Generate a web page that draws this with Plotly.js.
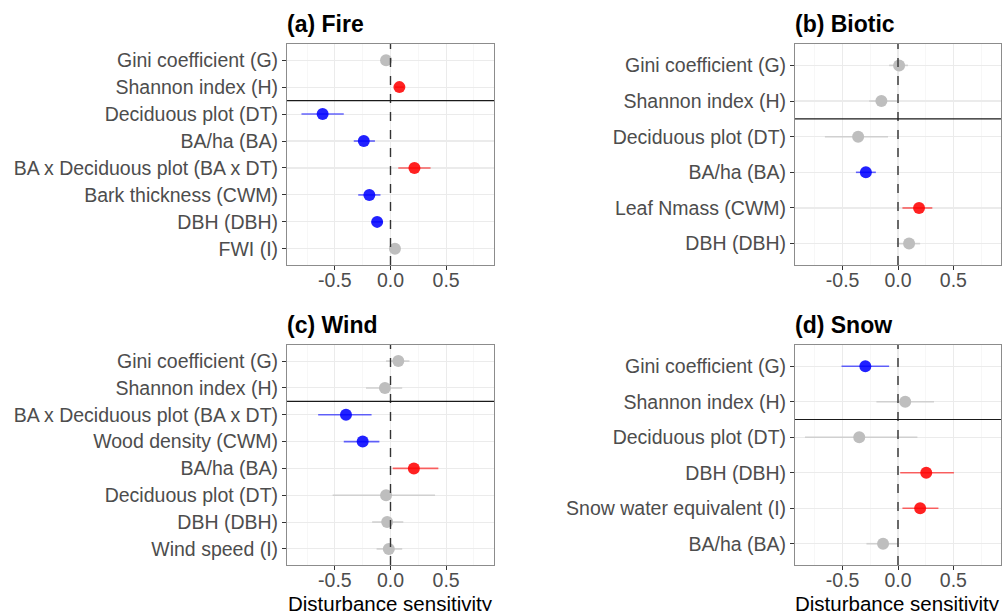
<!DOCTYPE html>
<html>
<head>
<meta charset="utf-8">
<script src="https://cdn.plot.ly/plotly-3.0.1.min.js"></script>
<style>html,body{margin:0;padding:0;background:#fff;}#chart{width:1002px;height:611px;}</style>
</head>
<body>
<div id="chart"></div>
<script>
// ---- Data ----
// Panel (a) Fire
const fireLabels = ["Gini coefficient (G)", "Shannon index (H)", "Deciduous plot (DT)", "BA/ha (BA)", "BA x Deciduous plot (BA x DT)", "Bark thickness (CWM)", "DBH (DBH)", "FWI (I)"];
const fireEst = [-0.04, 0.08, -0.61, -0.24, 0.215, -0.19, -0.12, 0.04];
const fireLo  = [-0.08, 0.04, -0.80, -0.33, 0.07, -0.29, -0.17, 0.00];
const fireHi  = [0.01, 0.12, -0.42, -0.14, 0.36, -0.09, -0.07, 0.08];
const fireSig = ["ns", "pos", "neg", "neg", "pos", "neg", "neg", "ns"];

// Panel (b) Biotic
const bioticLabels = ["Gini coefficient (G)", "Shannon index (H)", "Deciduous plot (DT)", "BA/ha (BA)", "Leaf Nmass (CWM)", "DBH (DBH)"];
const bioticEst = [0.01, -0.15, -0.36, -0.29, 0.19, 0.10];
const bioticLo  = [-0.08, -0.26, -0.66, -0.38, 0.04, -0.01];
const bioticHi  = [0.09, -0.01, -0.09, -0.20, 0.31, 0.20];
const bioticSig = ["ns", "ns", "ns", "neg", "pos", "ns"];

// Panel (c) Wind
const windLabels = ["Gini coefficient (G)", "Shannon index (H)", "BA x Deciduous plot (BA x DT)", "Wood density (CWM)", "BA/ha (BA)", "Deciduous plot (DT)", "DBH (DBH)", "Wind speed (I)"];
const windEst = [0.07, -0.05, -0.40, -0.25, 0.21, -0.04, -0.03, -0.015];
const windLo  = [-0.04, -0.22, -0.65, -0.42, 0.02, -0.52, -0.165, -0.125];
const windHi  = [0.17, 0.105, -0.17, -0.10, 0.43, 0.40, 0.115, 0.105];
const windSig = ["ns", "ns", "neg", "neg", "pos", "ns", "ns", "ns"];

// Panel (d) Snow
const snowLabels = ["Gini coefficient (G)", "Shannon index (H)", "Deciduous plot (DT)", "DBH (DBH)", "Snow water equivalent (I)", "BA/ha (BA)"];
const snowEst = [-0.295, 0.065, -0.35, 0.255, 0.20, -0.135];
const snowLo  = [-0.51, -0.195, -0.84, 0.02, 0.04, -0.285];
const snowHi  = [-0.08, 0.325, 0.175, 0.505, 0.365, 0.00];
const snowSig = ["neg", "ns", "ns", "pos", "pos", "ns"];

const panelTitles = ["(a) Fire", "(b) Biotic", "(c) Wind", "(d) Snow"];
const xTitle = "Disturbance sensitivity";
const xTickVals = [-0.5, 0, 0.5];
const xTickText = ["-0.5", "0.0", "0.5"];

// ---- Styling ----
const FONT = "Liberation Sans, Arial, sans-serif";
const pointColor = {neg: "rgba(0,0,255,0.87)", pos: "rgba(255,0,0,0.87)", ns: "#bebebe"};
const lineColor  = {neg: "rgba(0,0,255,0.6)", pos: "rgba(255,0,0,0.6)", ns: "#d0d0d0"};

const panels = [
  {labels: fireLabels, est: fireEst, lo: fireLo, hi: fireHi, sig: fireSig},
  {labels: bioticLabels, est: bioticEst, lo: bioticLo, hi: bioticHi, sig: bioticSig},
  {labels: windLabels, est: windEst, lo: windLo, hi: windHi, sig: windSig},
  {labels: snowLabels, est: snowEst, lo: snowLo, hi: snowHi, sig: snowSig}
];

const W = 1002, H = 611;
const xDomLeft = [287 / W, 494 / W];
const xDomRight = [795 / W, 1001 / W];
const yDomTop = [(H - 265) / H, (H - 44) / H];
const yDomBot = [(H - 565) / H, (H - 345) / H];
const doms = [
  {x: xDomLeft, y: yDomTop},
  {x: xDomRight, y: yDomTop},
  {x: xDomLeft, y: yDomBot},
  {x: xDomRight, y: yDomBot}
];

const traces = [];
const layout = {
  width: W, height: H,
  margin: {l: 0, r: 0, t: 0, b: 0},
  paper_bgcolor: "#ffffff",
  plot_bgcolor: "#ffffff",
  showlegend: false,
  font: {family: FONT, color: "#4d4d4d"},
  shapes: [],
  annotations: []
};

panels.forEach((p, i) => {
  const k = i === 0 ? "" : String(i + 1);
  const xa = "x" + k, ya = "y" + k;
  ["ns", "neg", "pos"].forEach(g => {
    const idx = p.sig.map((s, j) => s === g ? j : -1).filter(j => j >= 0);
    if (!idx.length) return;
    traces.push({
      type: "scatter", mode: "markers",
      xaxis: xa, yaxis: ya,
      x: idx.map(j => p.est[j]),
      y: idx.map(j => p.labels[j]),
      marker: {size: 12, color: pointColor[g], line: {width: 0}},
      error_x: {
        type: "data", symmetric: false,
        array: idx.map(j => p.hi[j] - p.est[j]),
        arrayminus: idx.map(j => p.est[j] - p.lo[j]),
        color: lineColor[g], thickness: 1.6, width: 0
      },
      hoverinfo: "x+y"
    });
  });
  const n = p.labels.length;
  layout["xaxis" + k] = {
    domain: doms[i].x, anchor: ya,
    range: [-0.93, 0.93],
    tickvals: xTickVals, ticktext: xTickText,
    ticks: "outside", ticklen: 4, tickcolor: "#333333", tickwidth: 1,
    ticklabelstandoff: -6,
    tickfont: {size: 19.5, color: "#4d4d4d", family: FONT},
    showgrid: true, gridcolor: "#ebebeb", gridwidth: 1.1,
    minor: {tickvals: [-0.75, -0.25, 0.25, 0.75], showgrid: true, gridcolor: "#f2f2f2", gridwidth: 0.6, ticks: ""},
    zeroline: false,
    showline: true, mirror: true, linecolor: "#8c8c8c", linewidth: 1
  };
  layout["yaxis" + k] = {
    domain: doms[i].y, anchor: xa,
    type: "category", categoryorder: "array", categoryarray: p.labels,
    range: [n - 0.4, -0.6],
    ticks: "outside", ticklen: 4, tickcolor: "#333333", tickwidth: 1,
    tickfont: {size: 19.5, color: "#4d4d4d", family: FONT},
    showgrid: true, gridcolor: "#ebebeb", gridwidth: 1.1,
    zeroline: false,
    showline: true, mirror: true, linecolor: "#8c8c8c", linewidth: 1
  };
  // vertical dashed reference at 0
  layout.shapes.push({
    type: "line", xref: xa, yref: ya + " domain",
    x0: 0, x1: 0, y0: 0, y1: 1,
    line: {color: "#333333", width: 1.4, dash: "dash"}
  });
  // separator between diversity metrics and other predictors
  layout.shapes.push({
    type: "line", xref: xa + " domain", yref: ya,
    x0: 0, x1: 1, y0: 1.5, y1: 1.5,
    line: {color: "#1a1a1a", width: 1.2}
  });
  // panel title
  const topPx = i < 2 ? 44 : 345;
  layout.annotations.push({
    text: panelTitles[i], xref: "paper", yref: "paper",
    x: doms[i].x[0] - 2 / W, y: 1 - (topPx - 20) / H,
    xanchor: "left", yanchor: "middle", showarrow: false,
    font: {size: 23, color: "#000000", family: FONT, weight: "bold"}
  });
  if (i >= 2) {
    layout.annotations.push({
      text: xTitle, xref: "paper", yref: "paper",
      x: (doms[i].x[0] + doms[i].x[1]) / 2, y: 1 - 603 / H,
      xanchor: "center", yanchor: "middle", showarrow: false,
      font: {size: 20.5, color: "#000000", family: FONT}
    });
  }
});

Plotly.newPlot("chart", traces, layout, {displayModeBar: false, staticPlot: true});
</script>
</body>
</html>
